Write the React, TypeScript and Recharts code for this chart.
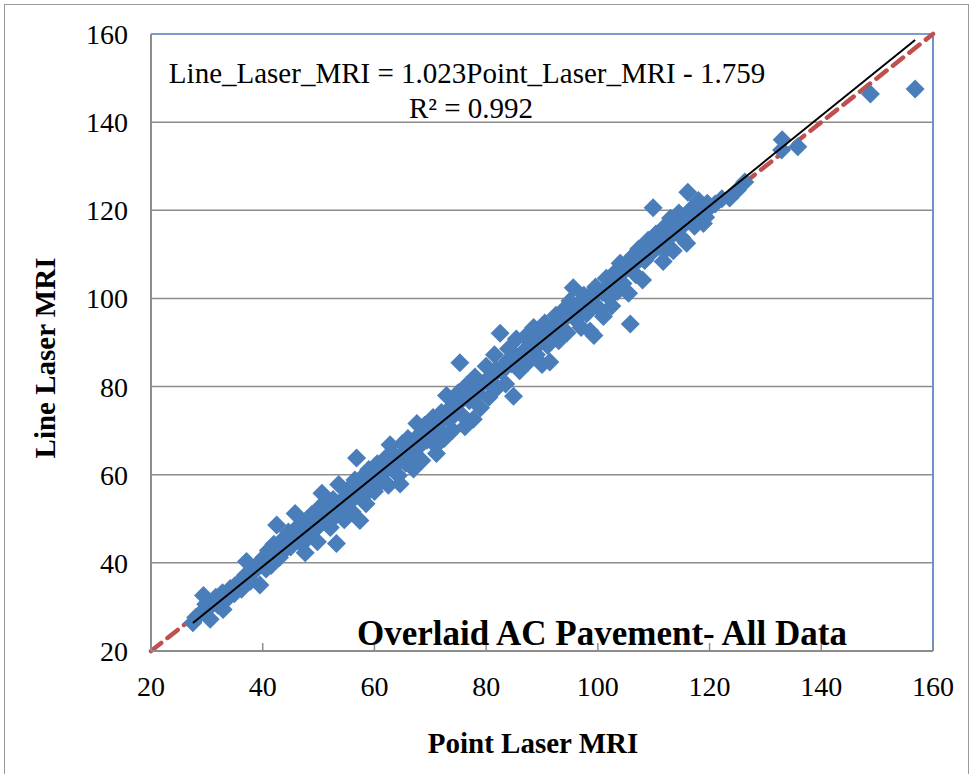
import React from 'react';
import { ScatterChart, Scatter, XAxis, YAxis, CartesianGrid, ReferenceLine } from 'recharts';

// Point laser MRI (x) vs line laser MRI (y), one entry per section
const POINT_LASER_MRI = [
  27.5, 28.6, 29.4, 30.2, 30.6, 31.2, 32, 32.9, 32.8, 33.6, 34.2, 34.9, 35.6, 36.2, 36.9, 37.1, 37.8, 38.4, 39, 39.5, 40.2, 40.6,
  41, 41.5, 42, 42.5, 43, 43.5, 44, 44.6, 45, 45.8, 46.2, 46.6, 47, 47.6, 47.9, 48.4, 48.8, 49.3, 49.8, 50.2, 50.6,
  51.1, 51.6, 52.1, 52.6, 53, 53.2, 53.6, 54.1, 54.6, 55.1, 55.5, 56, 56.5, 56.8, 57.2, 57.4, 58, 58.5, 59, 59.5, 60,
  60.5, 61, 61.6, 62, 62.5, 62.8, 63.3, 63.8, 64.3, 64.6, 65, 65.6, 66, 66.5, 67, 67.6, 68, 68.5, 69, 69.4, 70,
  70.5, 71, 71.1, 71.5, 72, 72.5, 72.9, 73.4, 74, 74.5, 75, 75.3, 75.8, 76.2, 76.6, 77, 77.7, 78, 78.5, 79, 79.5, 80,
  80.5, 81, 81.5, 82, 82.5, 83, 83.5, 84, 84.5, 84.9, 85.4, 86, 86.5, 87, 87.5, 88, 88.5, 89, 89.5, 90,
  90.5, 91, 91.4, 92, 92.5, 93, 93.5, 94, 94.5, 95, 95.6, 96, 96.5, 97, 97.5, 98, 98.6, 99, 99.3, 100,
  100.5, 101, 101.5, 102, 102.5, 103, 103.5, 104, 104.5, 105, 105.5, 105.8, 106.2, 106.8, 107.3, 108, 108.4, 109, 109.5, 109.9,
  110.4, 111, 111.7, 112, 112.6, 113, 113.5, 114, 114.5, 115, 115.5, 115.9, 116.1, 116.7, 117.3, 118, 118.9, 119.3, 120, 122.2,
  123.6, 125, 126.3, 132.9, 133, 135.8, 148.8, 156.8,
  // second batch of sections
  28, 29.8, 31.6, 33.2, 35, 36.5, 38, 39.8, 41.2, 42.8, 44.2, 45.4, 46.8, 48, 49, 50.4, 51.8, 53.4, 54.8, 56.2,
  57.8, 59.2, 60.8, 61.8, 63, 64, 65.3, 66.8, 67.8, 69.2, 70.2, 71.8, 73, 73.8, 74.8, 76, 77.3, 78.8, 80.2, 81.8,
  82.8, 83.8, 85, 86.2, 87.2, 88.2, 89.4, 90.8, 91.8, 92.8, 93.8, 95.2, 96.2, 97.2, 98.2, 99.6, 100.8, 102.2, 103.2, 104.2,
  105.2, 106.5, 107.6, 108.8, 110, 111.3, 112.3, 113.8, 114.8, 116.4, 117.8, 119.6, 121,
];
const LINE_LASER_MRI = [
  26.4, 28.2, 32.6, 29.6, 27.2, 31.4, 30.4, 29.4, 33.2, 31.8, 34.2, 33, 35.4, 34, 37.2, 40.3, 35.8, 38, 39.6, 35, 41.2, 38.6,
  42.8, 39.4, 44.2, 48.6, 41.2, 45.2, 43, 47, 43.6, 51.2, 45.8, 48.6, 44.2, 42.3, 49.8, 46.4, 51, 47.4, 44.8, 52.6, 55.8,
  49.4, 51.8, 48, 54.4, 50.6, 44.4, 57.8, 53, 49.8, 56.4, 53.6, 51.6, 58.8, 63.8, 55.4, 49.6, 57.5, 53.4, 61.2, 58.8, 56.2,
  62.5, 58.2, 60.4, 63.8, 57.6, 66.8, 61.5, 64.2, 59.8, 57.9, 67, 62.6, 68.2, 64.4, 61.3, 71.6, 66.4, 63.2, 71.2, 67.8, 69.2,
  73, 66.6, 64.8, 70.4, 74.1, 68.2, 78, 72.4, 70.1, 75.5, 78.6, 85.4, 73.4, 70.9, 80.4, 76.8, 72.6, 82.2, 78.4, 75.2, 80.8, 84.6,
  77.6, 82.4, 87.2, 79.8, 92.1, 84.3, 80.6, 88.6, 85.2, 77.8, 90.8, 83.6, 87.7, 91.3, 85.5, 89.6, 93.4, 87.2, 91.8, 85,
  94.4, 89.3, 85.6, 92.6, 96.2, 90.4, 94.8, 97.6, 92.2, 99.4, 102.4, 95.2, 98.6, 93.4, 100.7, 96.5, 92.6, 99.2, 91.6, 101.8,
  97.4, 95.9, 104.6, 100.2, 98.3, 105.8, 101.6, 108, 103.4, 106.6, 101.2, 94.2, 109.5, 105.4, 111.2, 104.2, 108.6, 113.2, 110.2, 120.6,
  114.6, 111.8, 108.4, 116.3, 113.5, 118.2, 110.8, 115.6, 119.4, 113.8, 117.6, 112.5, 124.1, 120.3, 116.4, 122.2, 117, 118.4, 120.6, 122.6,
  122.8, 124.6, 126.4, 133.7, 136, 134.4, 146.4, 147.5,
  27.6, 30.6, 32.2, 32.6, 34.8, 36, 37.6, 39.8, 40.8, 43, 45.4, 44.6, 47.2, 47.8, 48.8, 50.2, 53.6, 52.2, 55, 55.8,
  59.4, 56.6, 60.2, 62, 63.4, 62.8, 64.9, 66.4, 68.8, 69.8, 71.4, 72, 73.4, 75.4, 76.4, 77.6, 78.8, 80, 81.2, 84,
  83.4, 85.8, 87, 86.2, 88.6, 90.4, 89.6, 92, 93.6, 93.4, 96.2, 96.4, 97.8, 98.8, 100.2, 102.6, 101.4, 103.2, 103.8, 105.6,
  107.8, 107.8, 109, 110.8, 112.4, 114, 111.2, 116.8, 116, 118, 119.6, 121.6, 121.4,
];

const AXIS_TICKS = [20, 40, 60, 80, 100, 120, 140, 160];

// linear fit reported on the chart
const FIT_SLOPE = 1.023;
const FIT_INTERCEPT = -1.759;
const FIT_R2 = 0.992;
const FIT_X_START = 27.5;
const FIT_X_END = 156.8;

const data = POINT_LASER_MRI.map((x, i) => ({ x, y: LINE_LASER_MRI[i] }));
const fitData = [FIT_X_START, FIT_X_END].map(x => ({ x, y: FIT_SLOPE * x + FIT_INTERCEPT }));

const SERIF = 'Liberation Serif';

const Diamond = (props: any) => {
  const { cx, cy } = props;
  const r = 9.5;
  return <path d={`M${cx},${cy - r}L${cx + r},${cy}L${cx},${cy + r}L${cx - r},${cy}Z`} fill="#4A7EBB" />;
};

const NoMarker = () => <g />;

const App: React.FC = () => (
  <div style={{ position: 'absolute', left: 0, top: 0, width: 974, height: 774, overflow: 'hidden', background: '#fff' }}>
    <div style={{ position: 'absolute', left: 4, top: 4, width: 963, height: 820, border: '1.5px solid #9a9a9a' }} />
    <div style={{ position: 'absolute', left: 0, top: 0 }}>
      <ScatterChart width={974} height={774} margin={{ top: 34, right: 41, bottom: 93, left: 91 }}>
        <CartesianGrid horizontal vertical={false} stroke="#8c8c8c" strokeWidth={1.5} />
        <XAxis type="number" dataKey="x" domain={[20, 160]} ticks={AXIS_TICKS} height={30}
          tick={{ fill: '#000', fontSize: 28, fontFamily: SERIF }}
          tickSize={-8} tickMargin={33}
          axisLine={{ stroke: '#8c8c8c', strokeWidth: 2 }} tickLine={{ stroke: '#8c8c8c', strokeWidth: 1.5 }} />
        <YAxis type="number" dataKey="y" domain={[20, 160]} ticks={AXIS_TICKS} width={60}
          tick={{ fill: '#000', fontSize: 28, fontFamily: SERIF }}
          tickSize={0} tickMargin={23}
          axisLine={{ stroke: '#8c8c8c', strokeWidth: 2 }} tickLine={false} />
        <ReferenceLine y={160} stroke="#7d9ccf" strokeWidth={2} ifOverflow="visible" />
        <ReferenceLine x={160} stroke="#6f93cf" strokeWidth={2} ifOverflow="visible" />
        {/* 1:1 line */}
        <ReferenceLine segment={[{ x: 20, y: 20 }, { x: 160, y: 160 }]} stroke="#C0504D" strokeWidth={4.5}
          strokeDasharray="13 8" strokeLinecap="round" ifOverflow="visible" />
        <Scatter data={data} shape={<Diamond />} isAnimationActive={false} />
        {/* fitted trend line, drawn over the markers */}
        <Scatter data={fitData} shape={<NoMarker />} line={{ stroke: '#000', strokeWidth: 2 }} lineType="joint"
          isAnimationActive={false} />
      </ScatterChart>
    </div>
    <svg width={974} height={774} style={{ position: 'absolute', left: 0, top: 0, pointerEvents: 'none' }}>
      <text x={467} y={83} textAnchor="middle" fontSize={29} fontFamily={SERIF}>
        Line_Laser_MRI = {FIT_SLOPE.toFixed(3)}Point_Laser_MRI - {Math.abs(FIT_INTERCEPT).toFixed(3)}
      </text>
      <text x={471} y={118} textAnchor="middle" fontSize={29} fontFamily={SERIF}>R² = {FIT_R2.toFixed(3)}</text>
      <text x={602} y={645} textAnchor="middle" fontSize={35} fontWeight="bold" fontFamily={SERIF}>
        Overlaid AC Pavement- All Data
      </text>
      <text x={533} y={753} textAnchor="middle" fontSize={29} fontWeight="bold" fontFamily={SERIF}>Point Laser MRI</text>
      <text transform="translate(55,358) rotate(-90)" textAnchor="middle" fontSize={29} fontWeight="bold"
        fontFamily={SERIF}>Line Laser MRI</text>
    </svg>
  </div>
);

export default App;
